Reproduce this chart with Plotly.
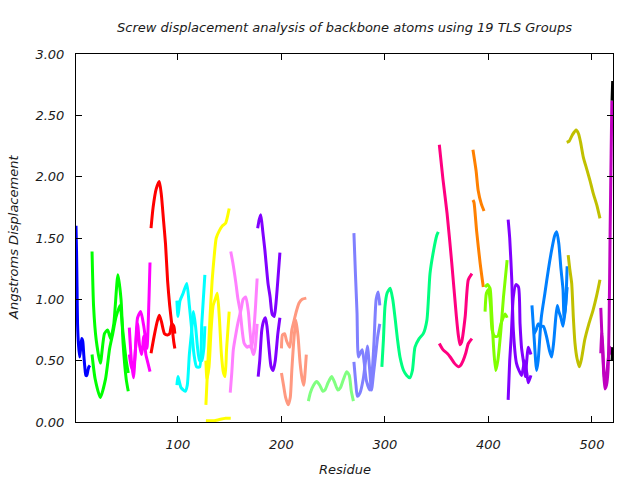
import plotly.graph_objects as go

# ---- data: residue / screw displacement (Angstroms) per TLS group curve ----
g01_colour = "#0000ff"
g01a_res = [1.5, 2, 2.5, 3, 4, 5, 6, 7, 8, 9, 10, 11, 12, 13, 14, 15]
g01a_val = [1.6, 1.4, 1.1, 0.8, 0.62, 0.53, 0.6, 0.68, 0.66, 0.55, 0.45, 0.38, 0.38, 0.42, 0.45, 0.46]

g02_colour = "#00ff00"
g02a_res = [17, 18.5, 21, 25, 29, 32, 35, 38, 42, 45, 47, 50, 52]
g02a_val = [1.39, 0.94, 0.67, 0.48, 0.72, 0.75, 0.68, 0.8, 1.2, 1.0, 0.64, 0.35, 0.25]
g02b_res = [17, 20, 25, 30, 34, 37, 40, 44, 47, 50, 52]
g02b_val = [0.55, 0.35, 0.2, 0.35, 0.6, 0.72, 0.85, 0.95, 0.72, 0.5, 0.4]

g03_colour = "#ff00ff"
g03a_res = [53, 55, 57, 59, 61, 64, 67, 70, 72, 73]
g03a_val = [0.77, 0.5, 0.36, 0.6, 0.85, 0.9, 0.78, 0.6, 1.0, 1.3]
g03b_res = [53, 55, 57, 59, 61, 63, 65, 67, 69, 71, 73]
g03b_val = [0.55, 0.45, 0.42, 0.6, 0.8, 0.62, 0.55, 0.7, 0.55, 0.48, 0.41]

g04_colour = "#ff0000"
g04a_res = [74, 76, 79, 82, 84, 86, 88, 90, 92, 94, 96, 97]
g04a_val = [1.58, 1.75, 1.9, 1.96, 1.85, 1.65, 1.45, 1.15, 0.95, 0.8, 0.65, 0.6]
g04b_res = [74, 77, 80, 82, 84, 87, 90, 92, 94, 96, 97]
g04b_val = [0.56, 0.7, 0.82, 0.87, 0.82, 0.72, 0.71, 0.72, 0.8, 0.78, 0.72]

g05_colour = "#00ffff"
g05a_res = [99, 100, 102, 105, 108.5, 111, 113, 115.5, 118, 121, 123, 126]
g05a_val = [0.99, 0.86, 0.99, 1.05, 1.13, 0.95, 0.78, 0.55, 0.45, 0.45, 0.8, 1.2]
g05b_res = [99, 100, 103, 107, 109, 111, 113, 115, 117, 119, 121, 123, 125, 126]
g05b_val = [0.3, 0.37, 0.28, 0.25, 0.3, 0.55, 0.72, 0.9, 0.78, 0.6, 0.5, 0.5, 0.6, 0.78]

g06_colour = "#ffff00"
g06a_res = [127, 129, 131, 133, 135, 137, 140, 143, 146, 148, 149.5]
g06a_val = [0.14, 0.5, 0.86, 1.15, 1.35, 1.5, 1.56, 1.6, 1.62, 1.68, 1.74]
g06b_res = [127, 128, 130, 132, 134, 136, 138, 140, 142, 144, 145.5, 147, 149.5]
g06b_val = [0.5, 0.35, 0.45, 0.75, 0.95, 1.0, 1.05, 0.85, 0.55, 0.4, 0.37, 0.6, 0.9]
g06c_res = [127, 135, 140, 146, 151]
g06c_val = [0.01, 0.01, 0.02, 0.03, 0.03]

g07_colour = "#ff80ff"
g07a_res = [151, 153, 156, 158, 160, 162, 164, 167, 169, 171, 173, 175, 176.5]
g07a_val = [1.39, 1.3, 1.13, 1.0, 0.91, 0.75, 0.64, 0.61, 0.62, 0.6, 0.72, 0.95, 1.17]
g07b_res = [150.5, 152, 153.5, 156, 158, 161, 163, 165.5, 168, 169.5, 171.5, 173, 174.5, 176.5]
g07b_val = [0.24, 0.4, 0.59, 0.72, 0.81, 0.92, 1.0, 1.02, 0.9, 0.75, 0.59, 0.55, 0.6, 0.8]

g08_colour = "#8000ff"
g08a_res = [177, 178.5, 180, 182, 184, 187, 189, 191, 193, 194.5, 196, 198.5]
g08a_val = [1.58, 1.65, 1.69, 1.55, 1.4, 1.13, 1.02, 0.88, 0.86, 0.95, 1.1, 1.38]
g08b_res = [177.5, 179, 181, 183, 184.5, 186, 188, 190, 192, 194, 196.5, 198.5]
g08b_val = [0.37, 0.5, 0.75, 0.83, 0.85, 0.78, 0.6, 0.45, 0.42, 0.5, 0.72, 0.85]

g09_colour = "#ff9980"
g09a_res = [200, 201, 203, 205, 208, 210, 212, 214, 217, 220, 224]
g09a_val = [0.6, 0.71, 0.72, 0.66, 0.61, 0.75, 0.82, 0.89, 0.97, 1.0, 1.01]
g09b_res = [200, 202, 204, 206.5, 208.5, 210, 212, 214, 216, 218, 220, 221.5, 224]
g09b_val = [0.4, 0.3, 0.2, 0.14, 0.2, 0.42, 0.67, 0.83, 0.7, 0.48, 0.35, 0.3, 0.55]

g10_colour = "#80ff80"
g10a_res = [226, 228, 231, 234, 237, 240, 242, 245, 248.5, 251, 254.5, 257, 260, 263, 265.5, 267.5, 269.5]
g10a_val = [0.17, 0.24, 0.3, 0.33, 0.3, 0.25, 0.26, 0.32, 0.37, 0.33, 0.26, 0.28, 0.35, 0.41, 0.38, 0.25, 0.17]

g11_colour = "#8080ff"
g11a_res = [270, 271.5, 273, 274.3, 276, 278, 280, 282, 285.5, 288, 289.5, 291.5, 293.5, 295]
g11a_val = [1.54, 1.2, 0.89, 0.53, 0.56, 0.59, 0.48, 0.34, 0.26, 0.45, 0.67, 1.0, 1.06, 0.95]
g11b_res = [270, 272, 273.3, 276, 279, 281, 283, 285, 287, 289, 291, 293, 295]
g11b_val = [0.49, 0.3, 0.21, 0.24, 0.35, 0.48, 0.62, 0.45, 0.26, 0.4, 0.55, 0.7, 0.8]

g12_colour = "#00ff80"
g12a_res = [297, 298.5, 300, 302, 305, 307.5, 310, 312, 314.5, 318, 321, 324, 326.5, 329, 333, 337, 340.5, 343.5, 347, 350, 351.5]
g12a_val = [0.45, 0.67, 0.94, 1.05, 1.09, 1.0, 0.83, 0.68, 0.53, 0.42, 0.38, 0.36, 0.42, 0.61, 0.68, 0.72, 0.83, 1.21, 1.4, 1.52, 1.55]

g13_colour = "#ff0080"
g13a_res = [352.5, 356, 360, 364.5, 369, 371, 372.5, 374, 377.5, 380.5, 384]
g13a_val = [2.26, 1.98, 1.7, 1.3, 0.86, 0.7, 0.63, 0.65, 0.86, 1.16, 1.21]
g13b_res = [352.5, 356, 360, 363, 367, 371, 373, 375.5, 378, 380.5, 384]
g13b_val = [0.64, 0.59, 0.56, 0.53, 0.48, 0.45, 0.46, 0.5, 0.56, 0.64, 0.68]

g14_colour = "#ff8000"
g14a_res = [385, 388, 390, 393, 395.7]
g14a_val = [2.22, 2.05, 1.89, 1.78, 1.72]
g14b_res = [385, 386, 388.5, 392, 395]
g14b_val = [1.81, 1.79, 1.56, 1.29, 1.1]

g15_colour = "#80ff00"
g15a_res = [396.7, 399, 401.5, 403, 405, 407, 409, 412, 414.5, 418]
g15a_val = [1.1, 1.12, 1.09, 0.9, 0.6, 0.42, 0.5, 0.75, 1.02, 1.32]
g15b_res = [396.7, 398, 400, 402, 403.5, 406, 409, 412, 416, 418]
g15b_val = [0.9, 1.05, 1.08, 0.95, 0.75, 0.7, 0.7, 0.8, 0.88, 0.85]

g16_colour = "#8000ff"
g16a_res = [419, 420.5, 422.5, 424, 427, 429.5, 432, 435, 437, 438.5, 441]
g16a_val = [1.65, 1.5, 1.16, 0.75, 0.48, 0.42, 0.38, 0.5, 0.4, 0.32, 0.38]
g16b_res = [419, 420.5, 422, 424, 426.5, 429, 430.5, 432, 434, 435.5, 438.5, 441]
g16b_val = [0.18, 0.5, 0.7, 1.02, 1.12, 1.1, 0.8, 0.6, 0.48, 0.37, 0.61, 0.55]

g17_colour = "#0080ff"
g17a_res = [442, 444, 446.5, 448, 451, 454.5, 458, 461, 464, 466, 468, 470, 472, 473, 474.5, 476]
g17a_val = [0.95, 0.7, 0.42, 0.5, 0.85, 1.05, 1.25, 1.4, 1.52, 1.55, 1.45, 1.25, 1.08, 0.85, 0.95, 1.27]
g17b_res = [444, 446, 448, 450, 453, 456, 459, 461, 463, 465, 466.5, 468, 470, 472, 474, 476]
g17b_val = [0.72, 0.75, 0.8, 0.78, 0.78, 0.7, 0.58, 0.53, 0.65, 0.85, 0.95, 0.9, 0.85, 0.78, 0.9, 1.1]

g18_colour = "#c0c000"
g18a_res = [475.6, 478, 481, 484.6, 487, 489, 491.6, 495, 498, 501, 504.6, 507.7]
g18a_val = [2.28, 2.29, 2.34, 2.38, 2.35, 2.28, 2.16, 2.06, 1.97, 1.87, 1.77, 1.66]
g18b_res = [477, 478.5, 480.4, 482, 483.6, 485.5, 487.8, 490, 493, 497, 501, 504.5, 507.7]
g18b_val = [1.36, 1.25, 1.13, 0.85, 0.64, 0.52, 0.45, 0.52, 0.67, 0.8, 0.91, 1.03, 1.16]

g19_colour = "#c000c0"
g19a_res = [508.5, 509.5, 511, 512.5, 514, 515.5, 516.5, 517.5, 518.5, 519.2]
g19a_val = [0.93, 0.72, 0.45, 0.27, 0.3, 0.42, 0.8, 1.54, 2.19, 2.62]
g19b_res = [508.5, 509.5, 510.5, 511.5, 512.5, 514, 515.5, 517.5, 519]
g19b_val = [0.56, 0.73, 0.6, 0.4, 0.34, 0.38, 0.5, 0.61, 0.55]

end_colour = "#000000"
enda_res = [519.4, 520]
enda_val = [2.62, 2.78]
endb_res = [519.4, 520]
endb_val = [0.5, 0.61]

x_tick_vals = [100, 200, 300, 400, 500]
y_tick_vals = [0.0, 0.5, 1.0, 1.5, 2.0, 2.5, 3.0]

curves = [
    (g01a_res, g01a_val, g01_colour),
    (g02a_res, g02a_val, g02_colour), (g02b_res, g02b_val, g02_colour),
    (g03a_res, g03a_val, g03_colour), (g03b_res, g03b_val, g03_colour),
    (g04a_res, g04a_val, g04_colour), (g04b_res, g04b_val, g04_colour),
    (g05a_res, g05a_val, g05_colour), (g05b_res, g05b_val, g05_colour),
    (g06a_res, g06a_val, g06_colour), (g06b_res, g06b_val, g06_colour), (g06c_res, g06c_val, g06_colour),
    (g07a_res, g07a_val, g07_colour), (g07b_res, g07b_val, g07_colour),
    (g08a_res, g08a_val, g08_colour), (g08b_res, g08b_val, g08_colour),
    (g09a_res, g09a_val, g09_colour), (g09b_res, g09b_val, g09_colour),
    (g10a_res, g10a_val, g10_colour),
    (g11a_res, g11a_val, g11_colour), (g11b_res, g11b_val, g11_colour),
    (g12a_res, g12a_val, g12_colour),
    (g13a_res, g13a_val, g13_colour), (g13b_res, g13b_val, g13_colour),
    (g14a_res, g14a_val, g14_colour), (g14b_res, g14b_val, g14_colour),
    (g15a_res, g15a_val, g15_colour), (g15b_res, g15b_val, g15_colour),
    (g16a_res, g16a_val, g16_colour), (g16b_res, g16b_val, g16_colour),
    (g17a_res, g17a_val, g17_colour), (g17b_res, g17b_val, g17_colour),
    (g18a_res, g18a_val, g18_colour), (g18b_res, g18b_val, g18_colour),
    (g19a_res, g19a_val, g19_colour), (g19b_res, g19b_val, g19_colour),
    (enda_res, enda_val, end_colour), (endb_res, endb_val, end_colour),
]

fig = go.Figure()
for xs, ys, col in curves:
    fig.add_trace(go.Scatter(
        x=xs, y=ys, mode="lines",
        line=dict(color=col, width=3, shape="spline", smoothing=0.6),
        showlegend=False, hoverinfo="skip",
    ))

font_family = "DejaVu Sans"
text_colour = "#1a1a1a"
fig.update_layout(
    width=640, height=480,
    margin=dict(l=76, r=27, t=54, b=58),
    paper_bgcolor="white", plot_bgcolor="white",
    font=dict(family=font_family, size=13, color=text_colour, style="italic"),
    title=dict(
        text="Screw displacement analysis of backbone atoms using 19 TLS Groups",
        x=0.5, xref="paper", xanchor="center",
        y=1 - 27 / 480, yref="container", yanchor="middle",
        font=dict(family=font_family, size=13, color=text_colour, style="italic"),
    ),
    xaxis=dict(
        range=[1.5, 520.3], tickvals=x_tick_vals,
        showgrid=False, zeroline=False,
        showline=True, linecolor="black", linewidth=1, mirror="ticks",
        ticks="inside", ticklen=6, tickcolor="black",
        tickfont=dict(size=13, style="italic", color=text_colour),
        ticklabelstandoff=10,
    ),
    yaxis=dict(
        range=[0, 3.0], tickvals=y_tick_vals, tickformat=".2f",
        showgrid=False, zeroline=False,
        showline=True, linecolor="black", linewidth=1, mirror="ticks",
        ticks="inside", ticklen=6, tickcolor="black",
        tickfont=dict(size=13, style="italic", color=text_colour),
        ticklabelstandoff=8,
    ),
    annotations=[
        dict(text="Residue", x=0.5, xref="paper", y=-(469 - 422) / 368, yref="paper",
             xanchor="center", yanchor="middle", showarrow=False,
             font=dict(family=font_family, size=13, color=text_colour, style="italic")),
        dict(text="Angstroms Displacement", x=(13 - 76) / 537, xref="paper", y=0.5, yref="paper",
             xanchor="center", yanchor="middle", textangle=-90, showarrow=False,
             font=dict(family=font_family, size=13, color=text_colour, style="italic")),
    ],
)

fig.write_html("out.html")
